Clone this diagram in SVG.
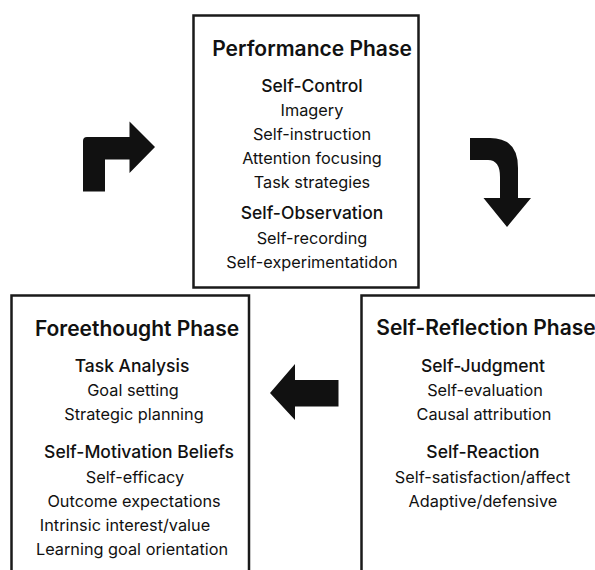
<svg xmlns="http://www.w3.org/2000/svg" width="595" height="570" viewBox="0 0 595 570">
  <style>
    .box { fill: #ffffff; stroke: #1a1a1a; stroke-width: 2.5; }
    .arrow { fill: #111111; }
    text { font-family: Inter, Roboto, "Liberation Sans", sans-serif; fill: #111111; text-anchor: middle; }
    .title { font-size: 21px; font-weight: 600; }
    .head { font-size: 17.5px; font-weight: 500; }
    .item { font-size: 16.3px; font-weight: 400; }
  </style>
  <rect width="595" height="570" fill="#ffffff"/>

  <!-- Performance phase -->
  <g id="performance">
    <rect class="box" x="193.5" y="15.5" width="225" height="272"/>
    <text class="title" x="312" y="56">Performance Phase</text>
    <text class="head" x="312" y="92">Self-Control</text>
    <text class="item" x="312" y="116">Imagery</text>
    <text class="item" x="312" y="140">Self-instruction</text>
    <text class="item" x="312" y="164">Attention focusing</text>
    <text class="item" x="312" y="188">Task strategies</text>
    <text class="head" x="312" y="219">Self-Observation</text>
    <text class="item" x="312" y="244">Self-recording</text>
    <text class="item" x="312" y="268">Self-experimentatidon</text>
  </g>

  <!-- Forethought phase -->
  <g id="forethought">
    <path class="box" d="M11.5,575 V295.5 H249 V575"/>
    <text class="title" x="137" y="336">Foreethought Phase</text>
    <text class="head" x="132" y="372">Task Analysis</text>
    <text class="item" x="133" y="396">Goal setting</text>
    <text class="item" x="134" y="420">Strategic planning</text>
    <text class="head" x="139" y="458">Self-Motivation Beliefs</text>
    <text class="item" x="135" y="483">Self-efficacy</text>
    <text class="item" x="134" y="507">Outcome expectations</text>
    <text class="item" x="125" y="531">Intrinsic interest/value</text>
    <text class="item" x="132" y="555">Learning goal orientation</text>
  </g>

  <!-- Self-reflection phase -->
  <g id="self-reflection">
    <path class="box" d="M600,295.5 H361.5 V575"/>
    <text class="title" x="486" y="335">Self-Reflection Phase</text>
    <text class="head" x="483" y="372">Self-Judgment</text>
    <text class="item" x="485" y="396">Self-evaluation</text>
    <text class="item" x="484" y="420">Causal attribution</text>
    <text class="head" x="483" y="458">Self-Reaction</text>
    <text class="item" x="482.5" y="483">Self-satisfaction/affect</text>
    <text class="item" x="483" y="507">Adaptive/defensive</text>
  </g>

  <!-- Cycle arrows -->
  <g id="connectors">
    <path class="arrow" d="M83,191.5 V141 Q83,137 87,137 H129.5 V121.5 L155,147 L129.5,173 V159.5 H105 V191.5 Z"/>
    <path class="arrow" d="M470,138 H490 Q518,138 518,168 V198 H531 L507,227 L483.5,198 H500 V177 Q500,160 488,160 H470 Z"/>
    <path class="arrow" d="M338.5,380 H295 V364 L270,393 L295,420 V406.5 H338.5 Z"/>
  </g>
</svg>
